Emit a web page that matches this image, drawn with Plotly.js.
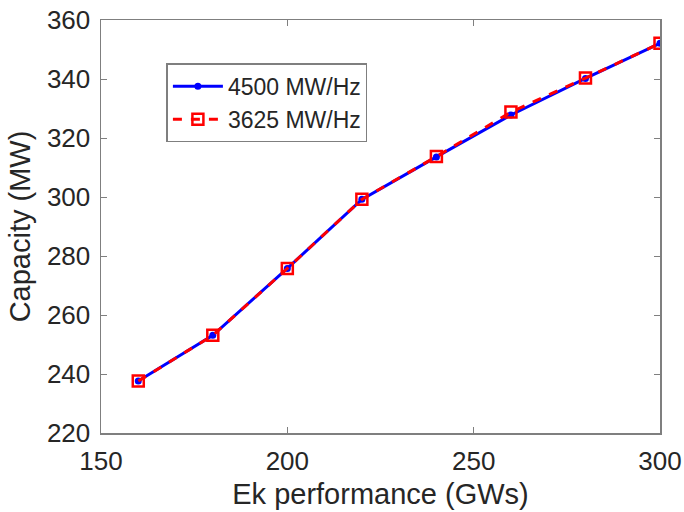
<!DOCTYPE html>
<html><head><meta charset="utf-8">
<script src="https://cdn.plot.ly/plotly-3.0.1.min.js"></script>
<style>html,body{margin:0;padding:0;background:#fff}#chart{width:684px;height:512px}</style>
</head><body><div id="chart"></div>
<script>
const ek = [160, 180, 200, 220, 240, 260, 280, 300];
const cap4500 = [237.6, 253.1, 275.8, 299.2, 313.6, 327.8, 340.2, 352.1];
const cap3625 = [237.6, 253.1, 275.8, 299.2, 313.7, 328.8, 340.3, 352.1];
const seriesNames = ['4500 MW/Hz', '3625 MW/Hz'];
const xTicks = [150, 200, 250, 300];
const yTicks = [220, 240, 260, 280, 300, 320, 340, 360];

const traces = [
  {x: ek, y: cap4500, name: seriesNames[0], mode: 'lines+markers', type: 'scatter',
   line: {color: '#0000ff', width: 3}, marker: {symbol: 'circle', size: 7, color: '#0000ff'}},
  {x: ek, y: cap3625, name: seriesNames[1], mode: 'lines+markers', type: 'scatter',
   line: {color: '#ff0000', width: 3, dash: 'dash'},
   marker: {symbol: 'square-open', size: 11, color: '#ff0000', line: {width: 2.5, color: '#ff0000'}}}
];
const fam = 'Liberation Sans, Arial, sans-serif';
const txt = '#262626';
const axcol = '#7f7f7f';
const layout = {
  width: 684, height: 512,
  margin: {l: 101, r: 24, t: 20, b: 79},
  paper_bgcolor: '#fff', plot_bgcolor: '#fff',
  showlegend: true,
  legend: {x: 0.117, y: 0.895, xanchor: 'left', yanchor: 'top', bgcolor: '#fff',
    bordercolor: axcol, borderwidth: 1.5, font: {family: fam, size: 23, color: txt},
    tracegroupgap: 0, itemwidth: 50},
  xaxis: {range: [150, 300], tickvals: xTicks, ticks: 'inside', ticklen: 6, tickcolor: axcol,
    showline: true, linecolor: axcol, linewidth: 1.5, mirror: 'ticks', showgrid: false, zeroline: false,
    tickfont: {family: fam, size: 26, color: txt}, ticklabelstandoff: 4,
    title: {text: 'Ek performance (GWs)', font: {family: fam, size: 29, color: txt}, standoff: 9}},
  yaxis: {range: [220, 360], tickvals: yTicks, ticks: 'inside', ticklen: 6, tickcolor: axcol,
    showline: true, linecolor: axcol, linewidth: 1.5, mirror: 'ticks', showgrid: false, zeroline: false,
    tickfont: {family: fam, size: 26, color: txt}, ticklabelstandoff: 4,
    title: {text: 'Capacity (MW)', font: {family: fam, size: 29, color: txt}, standoff: 8}}
};
Plotly.newPlot('chart', traces, layout, {displayModeBar: false, staticPlot: true});
</script></body></html>
